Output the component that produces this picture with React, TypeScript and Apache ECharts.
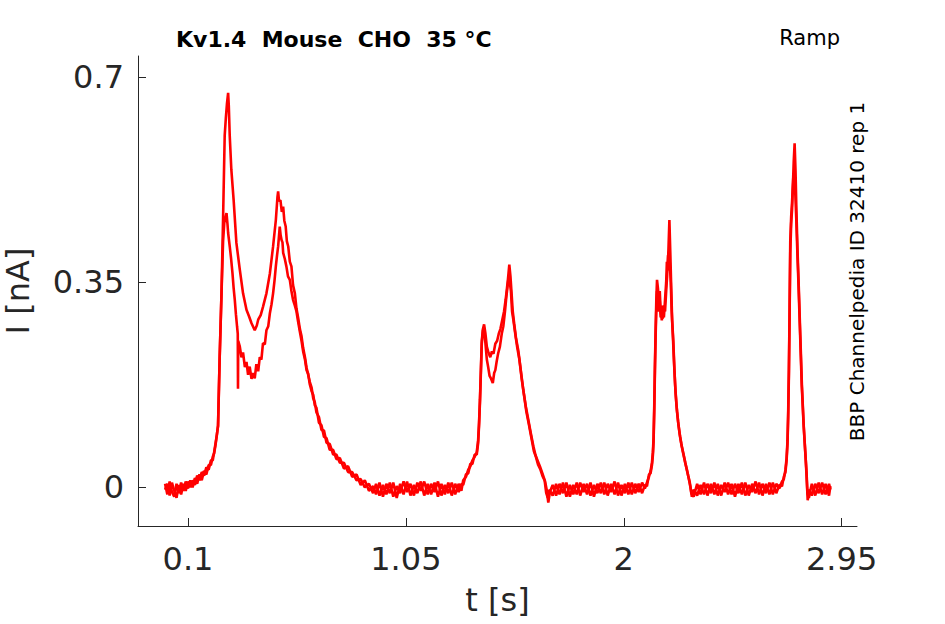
import React, { useEffect, useRef } from "react";
import * as echarts from "echarts";

const xTicks = [0.1, 1.05, 2, 2.95];
const yTicks = [0, 0.35, 0.7];

const titleText = "Kv1.4  Mouse  CHO  35 °C";
const protocolText = "Ramp";
const sideText = "BBP Channelpedia ID 32410 rep 1";

// trace A (upper sweep): [time s, current nA]
const traceA: [number, number][] = [
  [0.000,0.006],[0.010,-0.012],[0.020,0.010],[0.030,-0.008],[0.040,-0.016],[0.050,0.006],[0.060,-0.010],[0.070,0.008],[0.080,-0.006],[0.090,0.010],[0.100,-0.002],[0.110,0.012],[0.120,0.000],[0.130,0.016],[0.140,0.006],[0.150,0.022],[0.160,0.012],[0.170,0.028],[0.180,0.022],[0.190,0.038],[0.200,0.038],[0.208,0.052],[0.214,0.058],
  [0.220,0.072],[0.226,0.090],[0.231,0.105],[0.238,0.220],[0.246,0.330],[0.253,0.460],[0.260,0.600],[0.265,0.630],[0.270,0.655],[0.275,0.673],[0.278,0.650],[0.282,0.600],[0.289,0.542],[0.299,0.490],[0.311,0.417],[0.326,0.371],[0.340,0.331],[0.355,0.303],[0.366,0.292],[0.377,0.280],[0.391,0.268],[0.400,0.276],[0.406,0.286],[0.417,0.294],[0.427,0.308],[0.442,0.331],[0.457,0.365],[0.471,0.411],[0.483,0.456],[0.490,0.495],[0.493,0.505],[0.497,0.488],[0.503,0.490],[0.509,0.470],[0.515,0.479],[0.520,0.455],[0.526,0.445],[0.531,0.420],[0.537,0.411],[0.544,0.385],[0.551,0.377],[0.558,0.345],[0.566,0.331],[0.573,0.305],[0.580,0.290],[0.588,0.270],[0.595,0.258],[0.602,0.238],[0.610,0.222],[0.617,0.204],[0.624,0.192],[0.631,0.180],[0.639,0.170],[0.646,0.152],[0.653,0.145],[0.660,0.128],[0.671,0.120],[0.682,0.098],[0.693,0.097],[0.704,0.076],[0.718,0.074],[0.733,0.056],[0.747,0.056],[0.762,0.042],[0.780,0.042],[0.798,0.026],[0.816,0.026],[0.835,0.012],[0.853,0.014],[0.871,0.000],[0.889,0.006],[0.907,-0.010],
  [0.920,0.006],[0.935,-0.014],[0.950,0.004],[0.965,-0.012],[0.980,0.008],[0.995,-0.016],[1.010,0.002],[1.025,-0.010],[1.040,0.010],[1.055,-0.008],[1.070,0.006],[1.085,-0.014],[1.100,0.008],[1.115,-0.006],[1.130,0.010],[1.145,-0.012],[1.160,0.006],[1.175,-0.008],[1.190,0.010],[1.205,-0.014],[1.220,0.004],[1.235,-0.010],[1.250,0.008],[1.265,-0.012],[1.280,0.006],[1.292,-0.006],
  [1.300,0.012],[1.312,0.018],[1.322,0.030],[1.331,0.036],[1.340,0.046],[1.350,0.052],[1.359,0.060],[1.365,0.080],[1.369,0.110],[1.373,0.150],[1.377,0.200],[1.381,0.250],[1.386,0.270],[1.391,0.278],[1.397,0.262],[1.403,0.240],[1.410,0.230],[1.418,0.222],[1.425,0.232],[1.432,0.228],[1.440,0.245],[1.448,0.250],[1.455,0.262],[1.462,0.270],[1.470,0.285],[1.478,0.300],[1.485,0.320],[1.490,0.337],[1.495,0.355],[1.501,0.380],[1.506,0.360],[1.511,0.330],[1.516,0.300],[1.522,0.280],[1.530,0.255],[1.540,0.234],[1.551,0.200],[1.562,0.166],[1.573,0.138],[1.584,0.115],[1.595,0.092],[1.606,0.070],[1.615,0.055],[1.625,0.045],[1.635,0.035],[1.645,0.024],[1.657,0.010],[1.664,-0.004],[1.671,-0.026],[1.678,-0.008],
  [1.690,0.004],[1.705,-0.014],[1.720,0.006],[1.735,-0.010],[1.750,0.008],[1.765,-0.016],[1.780,0.004],[1.795,-0.012],[1.810,0.008],[1.825,-0.008],[1.840,0.006],[1.855,-0.014],[1.870,0.004],[1.885,-0.010],[1.900,0.008],[1.915,-0.012],[1.930,0.006],[1.945,-0.008],[1.960,0.010],[1.975,-0.014],[1.990,0.004],[2.005,-0.010],[2.020,0.008],[2.035,-0.012],[2.050,0.006],[2.065,-0.008],[2.080,0.008],[2.092,-0.002],
  [2.101,0.008],[2.110,0.018],[2.117,0.028],[2.123,0.042],[2.127,0.060],[2.130,0.085],[2.133,0.140],[2.136,0.210],[2.139,0.270],[2.142,0.320],[2.145,0.354],[2.149,0.340],[2.153,0.320],[2.157,0.335],[2.161,0.300],[2.166,0.285],[2.170,0.310],[2.175,0.290],[2.180,0.320],[2.185,0.350],[2.188,0.385],[2.192,0.370],[2.196,0.420],[2.199,0.456],[2.203,0.400],[2.207,0.340],[2.211,0.285],[2.216,0.250],[2.221,0.200],[2.226,0.160],[2.232,0.130],[2.239,0.105],[2.246,0.086],[2.253,0.070],[2.260,0.058],[2.268,0.042],[2.275,0.030],[2.283,0.016],[2.290,0.002],[2.297,-0.016],
  [2.305,-0.004],[2.320,-0.014],[2.335,0.004],[2.350,-0.012],[2.365,0.006],[2.380,-0.010],[2.395,0.008],[2.410,-0.014],[2.425,0.004],[2.440,-0.008],[2.455,0.008],[2.470,-0.012],[2.485,0.006],[2.500,-0.010],[2.515,0.008],[2.530,-0.014],[2.545,0.004],[2.560,-0.008],[2.575,0.010],[2.590,-0.012],[2.605,0.006],[2.620,-0.010],[2.635,0.008],[2.650,-0.012],[2.665,0.006],[2.678,-0.002],
  [2.690,0.010],[2.698,0.014],[2.705,0.030],[2.710,0.050],[2.714,0.080],[2.717,0.130],[2.720,0.200],[2.723,0.300],[2.726,0.420],[2.730,0.462],[2.734,0.488],[2.738,0.520],[2.741,0.555],[2.745,0.587],[2.749,0.540],[2.753,0.470],[2.758,0.400],[2.763,0.343],[2.770,0.257],[2.777,0.172],[2.785,0.103],[2.792,0.058],[2.797,0.020],[2.802,-0.022],[2.808,-0.004],
  [2.820,-0.014],[2.835,0.006],[2.850,-0.010],[2.865,0.008],[2.880,-0.012],[2.895,0.006],[2.901,-0.004],
];

// trace B (lower sweep)
const traceB: [number, number][] = [
  [0.000,-0.004],[0.010,0.006],[0.020,-0.014],[0.030,0.008],[0.040,-0.006],[0.050,-0.018],[0.060,0.004],[0.070,-0.012],[0.080,0.006],[0.090,-0.006],[0.100,0.010],[0.110,0.000],[0.120,0.012],[0.130,0.004],[0.140,0.020],[0.150,0.012],[0.160,0.026],[0.170,0.020],[0.180,0.034],[0.190,0.030],[0.200,0.046],[0.208,0.046],[0.214,0.060],
  [0.220,0.075],[0.226,0.090],[0.231,0.105],[0.238,0.220],[0.246,0.330],[0.253,0.420],[0.258,0.450],[0.263,0.462],[0.268,0.468],[0.272,0.450],[0.275,0.434],[0.282,0.411],[0.288,0.390],[0.294,0.365],[0.299,0.340],[0.304,0.320],[0.309,0.295],[0.314,0.274],[0.317,0.262],[0.318,0.168],[0.319,0.250],[0.326,0.240],[0.333,0.222],[0.340,0.230],[0.348,0.205],[0.355,0.214],[0.362,0.192],[0.369,0.206],[0.377,0.185],[0.384,0.195],[0.391,0.186],[0.398,0.210],[0.406,0.198],[0.413,0.222],[0.420,0.218],[0.427,0.246],[0.435,0.244],[0.442,0.268],[0.450,0.275],[0.457,0.297],[0.464,0.312],[0.471,0.331],[0.477,0.352],[0.483,0.377],[0.488,0.395],[0.493,0.411],[0.497,0.430],[0.500,0.445],[0.504,0.430],[0.508,0.422],[0.512,0.418],[0.515,0.400],[0.522,0.390],[0.529,0.377],[0.536,0.360],[0.544,0.354],[0.551,0.335],[0.558,0.320],[0.566,0.310],[0.573,0.300],[0.580,0.283],[0.588,0.265],[0.595,0.250],[0.602,0.232],[0.610,0.218],[0.617,0.200],[0.624,0.194],[0.631,0.176],[0.639,0.164],[0.646,0.158],[0.653,0.140],[0.660,0.136],[0.671,0.110],[0.682,0.106],[0.693,0.086],[0.704,0.084],[0.718,0.064],[0.733,0.064],[0.747,0.048],[0.762,0.050],[0.780,0.032],[0.798,0.036],[0.816,0.018],[0.835,0.022],[0.853,0.004],[0.871,0.012],[0.889,-0.006],[0.907,0.002],
  [0.920,-0.012],[0.935,0.008],[0.950,-0.016],[0.965,0.006],[0.980,-0.010],[0.995,0.008],[1.010,-0.018],[1.025,0.006],[1.040,-0.012],[1.055,0.010],[1.070,-0.014],[1.085,0.004],[1.100,-0.010],[1.115,0.010],[1.130,-0.014],[1.145,0.006],[1.160,-0.012],[1.175,0.008],[1.190,-0.016],[1.205,0.006],[1.220,-0.012],[1.235,0.008],[1.250,-0.014],[1.265,0.006],[1.280,-0.008],[1.292,0.006],
  [1.300,0.004],[1.312,0.022],[1.322,0.024],[1.331,0.040],[1.340,0.040],[1.350,0.056],[1.359,0.056],[1.365,0.075],[1.369,0.105],[1.373,0.145],[1.377,0.195],[1.381,0.245],[1.386,0.268],[1.391,0.272],[1.397,0.245],[1.403,0.218],[1.409,0.205],[1.415,0.190],[1.422,0.185],[1.429,0.178],[1.435,0.195],[1.440,0.200],[1.446,0.215],[1.452,0.228],[1.460,0.240],[1.468,0.262],[1.475,0.275],[1.482,0.300],[1.488,0.325],[1.494,0.345],[1.499,0.362],[1.503,0.350],[1.508,0.335],[1.513,0.300],[1.519,0.285],[1.527,0.262],[1.535,0.240],[1.545,0.218],[1.555,0.185],[1.565,0.158],[1.575,0.130],[1.586,0.108],[1.597,0.085],[1.608,0.062],[1.617,0.052],[1.627,0.038],[1.637,0.030],[1.647,0.018],[1.655,0.012],[1.662,-0.010],[1.669,-0.018],[1.676,-0.004],
  [1.690,-0.014],[1.705,0.006],[1.720,-0.012],[1.735,0.008],[1.750,-0.016],[1.765,0.004],[1.780,-0.012],[1.795,0.008],[1.810,-0.014],[1.825,0.006],[1.840,-0.012],[1.855,0.008],[1.870,-0.016],[1.885,0.006],[1.900,-0.010],[1.915,0.008],[1.930,-0.014],[1.945,0.006],[1.960,-0.012],[1.975,0.008],[1.990,-0.014],[2.005,0.006],[2.020,-0.012],[2.035,0.008],[2.050,-0.010],[2.065,0.006],[2.080,-0.010],[2.092,0.004],
  [2.101,0.002],[2.110,0.022],[2.117,0.024],[2.123,0.038],[2.127,0.055],[2.130,0.078],[2.133,0.130],[2.136,0.200],[2.139,0.260],[2.142,0.305],[2.145,0.335],[2.149,0.315],[2.153,0.300],[2.157,0.318],[2.161,0.290],[2.166,0.300],[2.170,0.288],[2.175,0.310],[2.180,0.300],[2.185,0.335],[2.189,0.360],[2.193,0.395],[2.197,0.402],[2.201,0.380],[2.205,0.350],[2.209,0.300],[2.214,0.260],[2.219,0.215],[2.224,0.175],[2.230,0.140],[2.237,0.112],[2.244,0.090],[2.251,0.074],[2.258,0.060],[2.266,0.046],[2.273,0.034],[2.281,0.020],[2.288,0.008],[2.295,-0.010],
  [2.305,-0.016],[2.320,0.006],[2.335,-0.012],[2.350,0.008],[2.365,-0.014],[2.380,0.006],[2.395,-0.012],[2.410,0.006],[2.425,-0.014],[2.440,0.008],[2.455,-0.012],[2.470,0.006],[2.485,-0.016],[2.500,0.006],[2.515,-0.012],[2.530,0.008],[2.545,-0.014],[2.560,0.006],[2.575,-0.010],[2.590,0.008],[2.605,-0.014],[2.620,0.006],[2.635,-0.012],[2.650,0.008],[2.665,-0.010],[2.678,0.004],
  [2.690,0.002],[2.698,0.018],[2.705,0.026],[2.710,0.046],[2.714,0.075],[2.717,0.120],[2.720,0.190],[2.723,0.290],[2.726,0.400],[2.730,0.450],[2.734,0.475],[2.737,0.510],[2.740,0.536],[2.744,0.525],[2.748,0.500],[2.752,0.460],[2.757,0.400],[2.762,0.345],[2.769,0.260],[2.776,0.175],[2.784,0.108],[2.791,0.062],[2.797,0.026],[2.801,-0.010],[2.807,-0.018],
  [2.820,0.006],[2.835,-0.014],[2.850,0.008],[2.865,-0.012],[2.880,0.006],[2.895,-0.014],[2.901,0.002],
];

const AXIS = "#262626";
const FONT = "DejaVu Sans";

export default function App() {
  const ref = useRef<HTMLDivElement>(null);
  useEffect(() => {
    if (!ref.current) return;
    const chart = echarts.init(ref.current, undefined, { renderer: "svg" });
    const fmt = (v: number) => String(Math.round(v * 100) / 100);
    chart.setOption({
      animation: false,
      backgroundColor: "#ffffff",
      grid: { left: 138, right: 88, top: 56, bottom: 98, containLabel: false, outerBoundsMode: "none" },
      xAxis: {
        type: "value",
        min: -0.118,
        max: 3.017,
        name: "t [s]",
        nameLocation: "middle",
        nameGap: 58,
        nameTextStyle: { color: AXIS, fontSize: 32, fontFamily: FONT },
        axisLine: { show: true, onZero: false, lineStyle: { color: AXIS, width: 1 } },
        axisTick: { show: true, inside: true, length: 8, customValues: xTicks, lineStyle: { color: AXIS } },
        axisLabel: { customValues: xTicks, color: AXIS, fontSize: 32, fontFamily: FONT, margin: 17, formatter: fmt },
        splitLine: { show: false },
      },
      yAxis: {
        type: "value",
        min: -0.066,
        max: 0.736,
        name: "I [nA]",
        nameLocation: "middle",
        nameGap: 104,
        nameTextStyle: { color: AXIS, fontSize: 32, fontFamily: FONT },
        axisLine: { show: true, onZero: false, lineStyle: { color: AXIS, width: 1 } },
        axisTick: { show: true, inside: true, length: 8, customValues: yTicks, lineStyle: { color: AXIS } },
        axisLabel: { customValues: yTicks, color: AXIS, fontSize: 32, fontFamily: FONT, margin: 14, formatter: fmt },
        splitLine: { show: false },
      },
      graphic: [
        {
          type: "text",
          x: 176,
          y: 39.5,
          style: { text: titleText, fill: "#000", font: `bold 22px '${FONT}'`, textAlign: "left", textVerticalAlign: "middle" },
        },
        {
          type: "text",
          x: 840,
          y: 38,
          style: { text: protocolText, fill: "#000", font: `21px '${FONT}'`, textAlign: "right", textVerticalAlign: "middle" },
        },
        {
          type: "text",
          x: 857,
          y: 271.5,
          rotation: Math.PI / 2,
          style: { text: sideText, fill: "#000", font: `20px '${FONT}'`, textAlign: "center", textVerticalAlign: "middle" },
        },
      ],
      series: [
        { type: "line", data: traceA, showSymbol: false, lineStyle: { color: "#ff0000", width: 2.6 }, itemStyle: { color: "#ff0000" } },
        { type: "line", data: traceB, showSymbol: false, lineStyle: { color: "#ff0000", width: 2.6 }, itemStyle: { color: "#ff0000" } },
      ],
    });
    return () => chart.dispose();
  }, []);
  return <div ref={ref} style={{ position: "absolute", left: 0, top: 0, width: 945, height: 624 }} />;
}
